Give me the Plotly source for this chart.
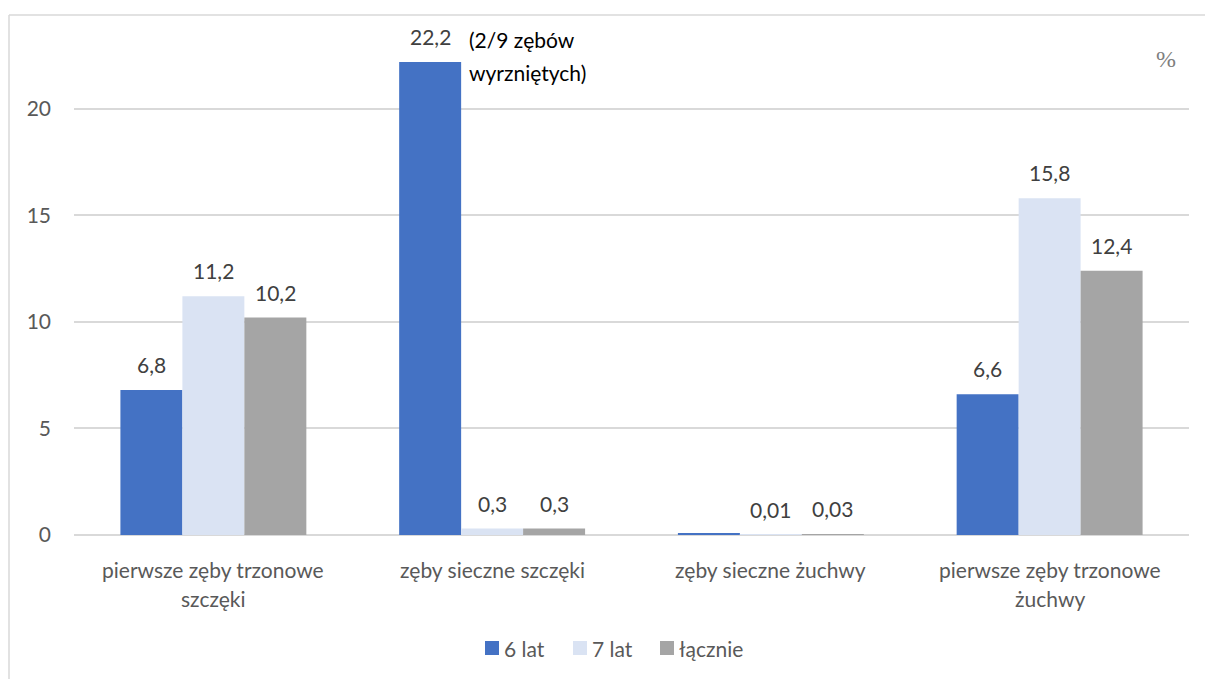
import plotly.graph_objects as go

# Categories (tooth groups) split into display lines
categories = [
    "pierwsze zęby trzonowe szczęki",
    "zęby sieczne szczęki",
    "zęby sieczne żuchwy",
    "pierwsze zęby trzonowe żuchwy",
]
category_lines = [
    ["pierwsze zęby trzonowe", "szczęki"],
    ["zęby sieczne szczęki"],
    ["zęby sieczne żuchwy"],
    ["pierwsze zęby trzonowe", "żuchwy"],
]

series_names = ["6 lat", "7 lat", "łącznie"]
values_6 = [6.8, 22.2, 0.05, 6.6]
values_7 = [11.2, 0.3, 0.01, 15.8]
values_all = [10.2, 0.3, 0.03, 12.4]
# which values get a printed label
show_label_6 = [True, True, False, True]
show_label_7 = [True, True, True, True]
show_label_all = [True, True, True, True]

colors = ["#4472C4", "#DAE3F3", "#A5A5A5"]
y_ticks = [0, 5, 10, 15, 20]

FONT = "Lato, 'Open Sans', sans-serif"
FS = 21
GRAY_TEXT = "#595959"
LABEL_TEXT = "#404040"
GRID = "#D9D9D9"

# plot area geometry (pixels), used to place legend items in paper units
L, R, T, B = 74, 16, 15, 144
W, H = 1205, 679
PW, PH = W - L - R, H - T - B

def px_x(px):
    return (px - L) / PW

def px_y(py):
    return (H - B - py) / PH

series = [values_6, values_7, values_all]
flags = [show_label_6, show_label_7, show_label_all]

fig = go.Figure()
for name, vals, col in zip(series_names, series, colors):
    fig.add_trace(go.Bar(
        x=categories, y=vals, name=name,
        marker=dict(color=col, line=dict(width=0)),
        hoverinfo="skip", showlegend=False,
    ))

def fmt(v):
    return ("%g" % v).replace(".", ",")

# value labels above each bar
bar_px = 62
offsets = [-bar_px, 0, bar_px]
annotations = []
for vals, fl, off in zip(series, flags, offsets):
    for cat, v, f in zip(categories, vals, fl):
        if not f:
            continue
        annotations.append(dict(
            x=cat, y=v, xref="x", yref="y", text=fmt(v), showarrow=False,
            xshift=off, yshift=11, yanchor="bottom",
            font=dict(family=FONT, size=FS, color=LABEL_TEXT),
        ))

# note beside the tallest bar
note_lines = ["(2/9 zębów", "wyrzniętych)"]
for i, line in enumerate(note_lines):
    annotations.append(dict(
        x=categories[1], y=22.2, xref="x", yref="y", text=line, showarrow=False,
        xanchor="left", yanchor="middle", xshift=-25, yshift=22 - i * 33,
        font=dict(family=FONT, size=FS, color="#000000"),
    ))

# category labels under the axis
for cat, lines in zip(categories, category_lines):
    for i, line in enumerate(lines):
        annotations.append(dict(
            x=cat, y=0, xref="x", yref="y", text=line, showarrow=False,
            xanchor="center", yanchor="middle", yshift=-34 - i * 29,
            font=dict(family=FONT, size=FS, color=GRAY_TEXT),
        ))

# unit marker
annotations.append(dict(
    x=0.9794, y=0.915, xref="paper", yref="paper", text="%", showarrow=False,
    xanchor="center", yanchor="middle",
    font=dict(family="Liberation Serif, serif", size=24, color="#7F7F7F"),
))

shapes = [
    dict(type="line", xref="paper", yref="paper", x0=px_x(9), x1=px_x(1230), y0=1.0, y1=1.0,
         line=dict(color=GRID, width=1.5)),
    dict(type="line", xref="paper", yref="paper", x0=px_x(9), x1=px_x(9), y0=1.0, y1=px_y(700),
         line=dict(color=GRID, width=1.5)),
]

# legend row: colour swatch followed by series name
legend_swatch_x = [485, 573, 660]
legend_y = 648
for name, col, sx in zip(series_names, colors, legend_swatch_x):
    shapes.append(dict(
        type="rect", xref="paper", yref="paper",
        x0=px_x(sx), x1=px_x(sx + 14), y0=px_y(legend_y + 7), y1=px_y(legend_y - 7),
        fillcolor=col, line=dict(width=0),
    ))
    annotations.append(dict(
        x=px_x(sx + 17), y=px_y(legend_y), xref="paper", yref="paper", text=name,
        showarrow=False, xanchor="left", yanchor="middle",
        font=dict(family=FONT, size=FS, color=GRAY_TEXT),
    ))

fig.update_layout(
    width=W, height=H,
    margin=dict(l=L, r=R, t=T, b=B),
    paper_bgcolor="white", plot_bgcolor="white",
    barmode="group", bargap=0.333, bargroupgap=0,
    font=dict(family=FONT, size=FS, color=GRAY_TEXT),
    showlegend=False,
    xaxis=dict(showticklabels=False, showgrid=False, showline=False, ticks="",
               zeroline=False),
    yaxis=dict(range=[0, 24.4], tickvals=y_ticks, ticktext=[str(t) for t in y_ticks],
               showgrid=True, gridcolor=GRID, gridwidth=1.5, zeroline=True,
               zerolinecolor=GRID, zerolinewidth=1.5, showline=False, ticks="",
               ticklabelstandoff=22,
               tickfont=dict(family=FONT, size=FS, color=GRAY_TEXT)),
    annotations=annotations,
    shapes=shapes,
)

fig.write_html("out.html")
